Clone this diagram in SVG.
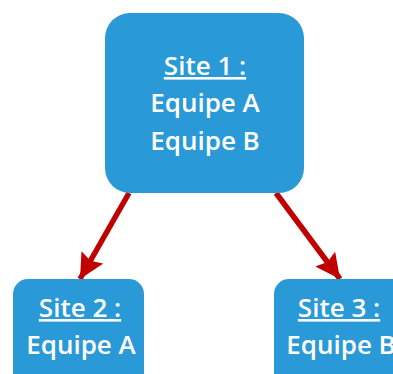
<svg xmlns="http://www.w3.org/2000/svg" width="393" height="374" viewBox="0 0 393 374">
<style>
.box{fill:#2999D7;}
.t{font-family:"Open Sans","Noto Sans",sans-serif;font-size:26px;font-weight:600;fill:#fff;text-anchor:middle;}
.u{text-decoration:underline;}
.c{stroke:#C00000;stroke-width:5.5;fill:none;}
</style>
<defs>
<marker id="ah" viewBox="0 0 10 10" refX="10" refY="5" markerWidth="4.5" markerHeight="4.5" orient="auto" markerUnits="strokeWidth">
<path d="M0,0 L10,5 L0,10 L1.5,5 z" fill="#C00000"/>
</marker>
</defs>
<g id="connectors">
<line class="c" x1="129" y1="193" x2="80" y2="279" marker-end="url(#ah)"/>
<line class="c" x1="276" y1="193" x2="340" y2="279" marker-end="url(#ah)"/>
</g>
<g id="site1">
<rect class="box" x="105" y="13" width="199" height="180" rx="25"/>
<text class="t u" x="205" y="75">Site 1 :</text>
<text class="t" x="205" y="112">Equipe A</text>
<text class="t" x="205" y="150">Equipe B</text>
</g>
<g id="site2">
<rect class="box" x="13" y="279" width="131" height="110" rx="15"/>
<text class="t u" x="80" y="317">Site 2 :</text>
<text class="t" x="81" y="354">Equipe A</text>
</g>
<g id="site3">
<rect class="box" x="274" y="279" width="140" height="110" rx="15"/>
<text class="t u" x="339" y="317">Site 3 :</text>
<text class="t" x="341" y="354">Equipe B</text>
</g>
</svg>
